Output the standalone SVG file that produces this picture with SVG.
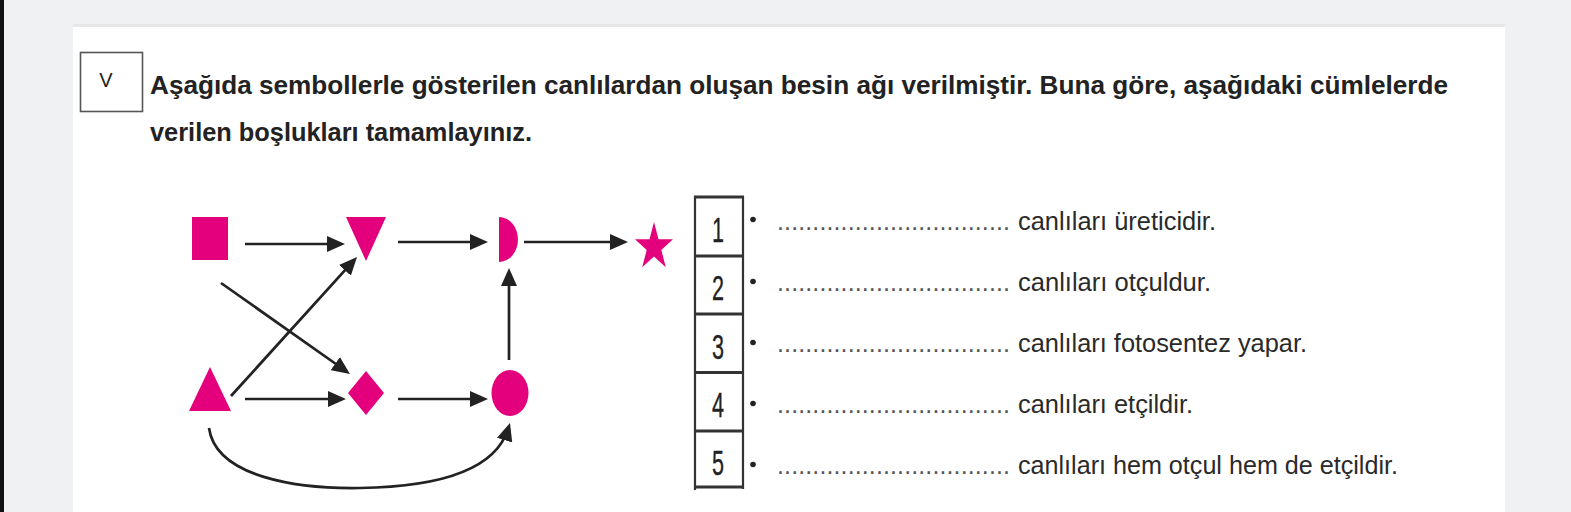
<svg xmlns="http://www.w3.org/2000/svg" width="1571" height="512" viewBox="0 0 1571 512">
<defs>
<style>
.title{font-family:"Liberation Sans",Arial,sans-serif;font-weight:bold;font-size:26px;fill:#222}
.item{font-family:"Liberation Sans",Arial,sans-serif;font-size:25px;fill:#2a2a2a}
.dots{font-family:"Liberation Sans",Arial,sans-serif;font-size:25px;fill:#555}
.num{font-family:"Liberation Sans",Arial,sans-serif;font-size:36px;fill:#222;stroke:#222;stroke-width:0.35;text-anchor:middle}
.sym{fill:#e4007c}
.conn{fill:none;stroke:#222;stroke-width:2.7;marker-end:url(#ah)}
.tbl{stroke:#333;stroke-width:2.2;fill:none}
.sep{stroke:#333;stroke-width:3}
</style>
<marker id="ah" markerUnits="userSpaceOnUse" markerWidth="18" markerHeight="16" refX="12" refY="8" orient="auto">
<path d="M0,0 L18,8 L0,16 z" fill="#222"/>
</marker>
</defs>
<rect x="0" y="0" width="1571" height="512" fill="#f0f1f3"/>
<rect x="0" y="0" width="4" height="512" fill="#111"/>
<rect x="73" y="24" width="1432" height="3" fill="#e6e7e9"/>
<rect x="73" y="27" width="1432" height="485" fill="#ffffff"/>

<g id="header">
<rect x="80.5" y="52.5" width="62" height="59" fill="none" stroke="#555" stroke-width="1.6"/>
<text x="106" y="87" font-family="Liberation Sans, Arial, sans-serif" font-size="20" fill="#222" text-anchor="middle">V</text>
<text class="title" x="150" y="94" textLength="1298" lengthAdjust="spacingAndGlyphs">Aşağıda sembollerle gösterilen canlılardan oluşan besin ağı verilmiştir. Buna göre, aşağıdaki cümlelerde</text>
<text class="title" x="150" y="141" textLength="382" lengthAdjust="spacingAndGlyphs">verilen boşlukları tamamlayınız.</text>
</g>

<g id="node-square"><rect class="sym" x="192" y="217" width="36" height="43"/></g>
<g id="node-invtriangle"><polygon class="sym" points="346,217 386,217 366,261"/></g>
<g id="node-halfdisc"><path class="sym" d="M499,217 A19,22.5 0 0 1 499,262 Z"/></g>
<g id="node-star"><polygon class="sym" points="654,222 658.5,239.3 673,239.3 661.3,250 665.8,267.2 654,256.6 642.2,267.2 646.7,250 635,239.3 649.5,239.3"/></g>
<g id="node-triangle"><polygon class="sym" points="210,367 231,411 189,411"/></g>
<g id="node-diamond"><polygon class="sym" points="366,371 384,393 366,415 348,393"/></g>
<g id="node-circle"><ellipse class="sym" cx="510" cy="393" rx="18.5" ry="23"/></g>

<g id="connectors">
<path class="conn" d="M245,244 L339,244"/>
<path class="conn" d="M398,242 L482,242"/>
<path class="conn" d="M524,242 L622,242"/>
<path class="conn" d="M221,283 L345.1,370.5"/>
<path class="conn" d="M231,396 L353,261.4"/>
<path class="conn" d="M245,399 L340,399"/>
<path class="conn" d="M398,399 L482,399"/>
<path class="conn" d="M509,360 L509,274"/>
<path class="conn" d="M209,428 C216,478 300,489 360,488 C430,487 494,474 508.2,428.7"/>
</g>

<g id="table">
<line class="tbl" x1="695" y1="196" x2="695" y2="490"/>
<line class="tbl" x1="743" y1="196" x2="743" y2="489"/>
<line class="sep" x1="694" y1="197" x2="744" y2="197"/>
<line class="sep" x1="694" y1="256" x2="744" y2="256"/>
<line class="sep" x1="694" y1="314" x2="744" y2="314"/>
<line class="sep" x1="694" y1="372.5" x2="744" y2="372.5"/>
<line class="sep" x1="694" y1="431" x2="744" y2="431"/>
<line class="sep" x1="694" y1="487" x2="744" y2="487"/>
<text class="num" transform="translate(718,242) scale(0.6,1)">1</text>
<text class="num" transform="translate(718,300) scale(0.6,1)">2</text>
<text class="num" transform="translate(718,358.5) scale(0.6,1)">3</text>
<text class="num" transform="translate(718,417) scale(0.6,1)">4</text>
<text class="num" transform="translate(718,475) scale(0.6,1)">5</text>
</g>

<g id="items">
<circle cx="753" cy="219.5" r="2.8" fill="#222"/>
<circle cx="753" cy="281.5" r="2.8" fill="#222"/>
<circle cx="753" cy="342.5" r="2.8" fill="#222"/>
<circle cx="753" cy="403.5" r="2.8" fill="#222"/>
<circle cx="753" cy="464.5" r="2.8" fill="#222"/>
<text class="dots" x="777" y="230" textLength="233" lengthAdjust="spacing">.................................</text>
<text class="dots" x="777" y="291" textLength="233" lengthAdjust="spacing">.................................</text>
<text class="dots" x="777" y="352" textLength="233" lengthAdjust="spacing">.................................</text>
<text class="dots" x="777" y="413" textLength="233" lengthAdjust="spacing">.................................</text>
<text class="dots" x="777" y="474" textLength="233" lengthAdjust="spacing">.................................</text>
<text class="item" x="1018" y="230" textLength="198" lengthAdjust="spacingAndGlyphs">canlıları üreticidir.</text>
<text class="item" x="1018" y="291" textLength="193" lengthAdjust="spacingAndGlyphs">canlıları otçuldur.</text>
<text class="item" x="1018" y="352" textLength="289" lengthAdjust="spacingAndGlyphs">canlıları fotosentez yapar.</text>
<text class="item" x="1018" y="413" textLength="175" lengthAdjust="spacingAndGlyphs">canlıları etçildir.</text>
<text class="item" x="1018" y="474" textLength="380" lengthAdjust="spacingAndGlyphs">canlıları hem otçul hem de etçildir.</text>
</g>
</svg>
